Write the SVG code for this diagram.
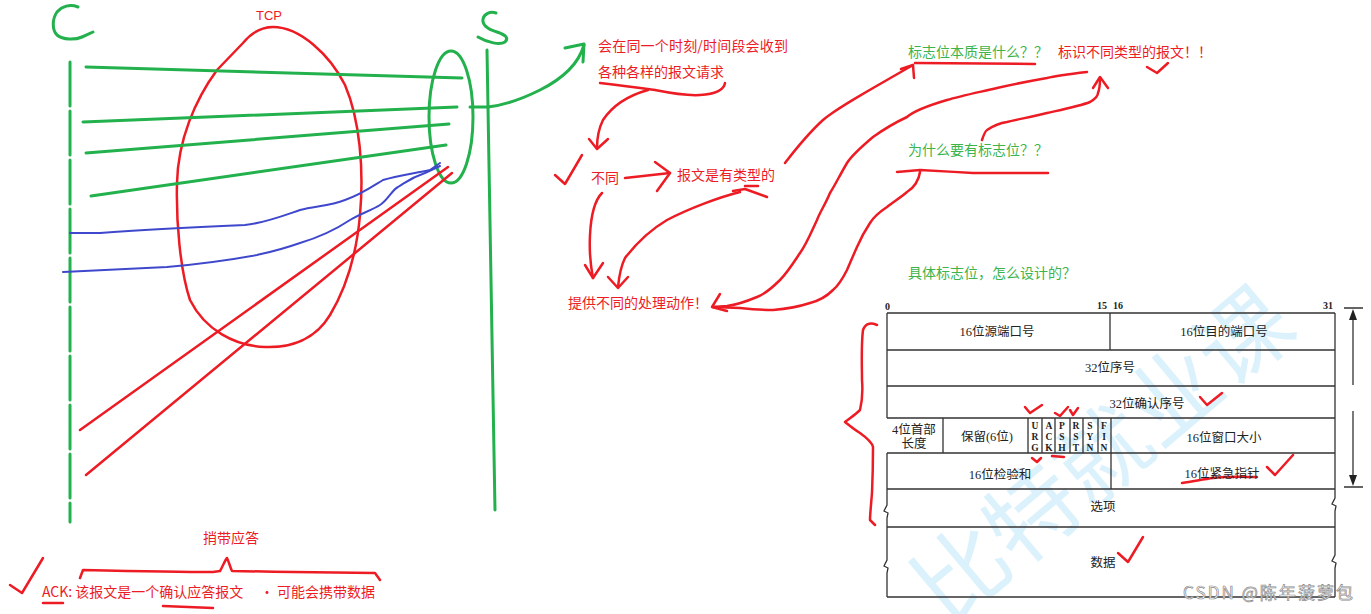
<svg xmlns="http://www.w3.org/2000/svg" width="1371" height="614" viewBox="0 0 1371 614">
<style>
.g{fill:none;stroke:#22b14c;stroke-width:3;stroke-linecap:round;stroke-linejoin:round}
.r{fill:none;stroke:#ed1c24;stroke-width:2.5;stroke-linecap:round;stroke-linejoin:round}
.b{fill:none;stroke:#3f48cc;stroke-width:2;stroke-linecap:round;stroke-linejoin:round}
.tr{fill:#ed1c24;font-family:"Noto Sans CJK SC","Liberation Sans",sans-serif;font-size:14px}
.tg{fill:#3cb44b;font-family:"Noto Sans CJK SC","Liberation Sans",sans-serif;font-size:14px}
.tl{fill:none;stroke:#333;stroke-width:1.3}
.tt{fill:#222;font-family:"Liberation Serif","Noto Sans CJK SC",serif;font-size:12.5px;text-anchor:middle}
.fl{fill:#222;font-family:"Liberation Serif",serif;font-size:9.5px;font-weight:bold;text-anchor:middle}
.bn{fill:#222;font-family:"Liberation Serif",serif;font-size:10px;font-weight:bold}
</style>
<rect width="1371" height="614" fill="#fff"/>

<!-- watermark -->
<text x="0" y="0" transform="translate(948,628) rotate(-40)" fill="#cfeefb" font-family="Noto Sans CJK SC,sans-serif" font-size="92" opacity="0.75">比特就业课</text>

<g id="client">
  <path class="g" d="M78,7 C70,4 62,6 57,12 C52,19 52,30 57,35 C63,40 75,40 82,37 L93,32"/>
  <path class="g" d="M70,62 L70,522" stroke-dasharray="44 5"/>
</g>
<g id="server">
  <path class="g" d="M496,13 C490,11 484,14 483,19 C482,25 487,29 497,32 C506,35 509,38 505,42 C500,45 488,43 478,37"/>
  <path class="g" d="M487,50 L495,510"/>
</g>
<g id="tcp">
  <text x="256" y="20" fill="#ed1c24" font-family="Liberation Sans,sans-serif" font-size="13">TCP</text>
  <path class="r" d="M243,43 C252,32 262,27 273,27 C300,27 330,55 345,85 C360,120 364,170 360,215 C356,260 345,290 330,315 C315,340 290,348 265,347 C235,346 205,330 190,300 C180,270 176,220 177,183 C178,140 195,100 217,70 Z"/>
</g>
<g id="socket">
  <ellipse class="g" cx="451" cy="117" rx="22" ry="66"/>
</g>

<g id="connectors">
  <!-- green requests -->
  <path class="g" d="M86,67 L462,78"/>
  <path class="g" d="M83,122 L457,107"/>
  <path class="g" d="M86,153 L449,124"/>
  <path class="g" d="M91,196 L446,145"/>
  <!-- blue -->
  <path class="b" d="M70,233 L100,233 C140,230 177,228 245,225 C265,223 285,215 300,210 C315,206 330,206 345,200 C360,195 370,188 383,180 C395,176 410,174 430,170 L440,163"/>
  <path class="b" d="M63,272 C100,270 140,268 167,267 C200,264 235,259 257,255 C270,252 280,250 300,243 C320,237 335,230 350,220 C360,214 372,210 380,205 C388,200 392,190 398,187 C405,183 410,178 425,173 L440,166"/>
  <!-- red -->
  <path class="r" d="M448,167 L80,430"/>
  <path class="r" d="M452,173 L86,475"/>
  <!-- green to notes -->
  <path class="g" d="M470,107 L488,107 C505,105 520,100 540,90 C560,80 578,66 584,45"/>
  <path class="g" d="M565,48 L584,44 L583,62"/>

  <!-- notes connectors -->
  <path class="r" d="M600,83 C625,86 640,88 655,90 C670,93 685,96 700,95 C715,94 724,90 725,83"/>
  <path class="r" d="M648,90 C630,95 613,105 603,120 C598,130 597,140 597,148"/>
  <path class="r" d="M589,139 L597,149 L608,139"/>
  <path class="r" d="M555,175 L565,184 L582,155"/>
  <path class="r" d="M625,178 L670,173"/>
  <path class="r" d="M655,162 L670,173 L657,191"/>
  <path class="r" d="M602,193 C595,200 591,215 590,235 C589,255 591,268 593,278"/>
  <path class="r" d="M585,265 L593,278 L603,263"/>
  <path class="r" d="M745,186 L758,186"/>
  <path class="r" d="M733,191 L745,189 L767,197"/>
  <path class="r" d="M740,192 C720,197 690,208 667,220 C650,230 635,245 625,258 C620,268 619,277 618,287"/>
  <path class="r" d="M608,277 L618,288 L628,277"/>
  <path class="r" d="M785,163 C795,150 812,130 823,120 C838,107 870,90 913,65"/>
  <path class="r" d="M901,69 L913,65 L914,78"/>
  <path class="r" d="M915,63 L1035,64"/>
  <path class="r" d="M1147,67 L1157,73 L1168,63"/>
  <path class="r" d="M1087,72 C1070,74 1055,76 1047,78 C1030,81 1010,85 997,88 C980,92 960,96 947,100 C930,105 915,110 907,117 C890,125 880,132 873,137 C860,148 852,155 847,163 C840,175 835,185 830,193 C825,205 820,212 817,220 C810,235 806,245 800,253 C792,265 787,273 780,280 C772,288 765,294 757,297 C745,302 735,305 727,306 L713,307"/>
  <path class="r" d="M720,294 L712,307 L727,311"/>
  <path class="r" d="M897,172 L920,170 C940,171 955,172 973,173 L1048,173"/>
  <path class="r" d="M920,172 C919,180 914,188 907,192 C900,198 893,202 887,207 C878,213 873,218 870,223 C864,232 860,240 857,247 C853,256 850,263 847,270 C843,278 839,285 833,290 C826,297 818,301 810,303 C798,307 785,309 773,310 C760,310 750,309 740,308 L713,307"/>
  <path class="r" d="M982,140 C984,134 985,131 987,130 C993,126 1000,123 1007,122 C1020,119 1035,116 1047,113 C1065,109 1080,106 1090,102 C1095,99 1098,96 1098,93 C1100,88 1100,83 1100,78"/>
  <path class="r" d="M1093,88 L1100,77 L1108,88"/>

  <!-- bottom brace -->
  <path class="r" d="M80,578 L83,570 C130,571 180,572 213,572 L220,571 C223,566 225,560 227,558 C229,562 230,567 232,571 C280,572 330,572 375,573 L380,580"/>
  <path class="r" d="M10,585 L22,593 L43,558"/>
  <path class="r" d="M43,603 L63,603"/>
  <path class="r" d="M163,606 L213,608"/>

  <!-- table annotations -->
  <path class="r" d="M877,325 C872,323 866,322 863,330 C861,345 862,367 862,380 C863,393 862,402 860,410 C855,415 850,418 845,422 C850,426 855,430 860,433 C867,438 872,442 873,447 C873,455 873,470 872,493 C871,505 870,515 870,520 L875,525"/>
  <path class="r" d="M1200,397 L1207,405 L1222,393"/>
  <path class="r" d="M1025,407 L1030,413 L1042,405" stroke-width="2"/>
  <path class="r" d="M1055,413 L1060,416 L1068,407" stroke-width="2"/>
  <path class="r" d="M1070,410 L1073,415 L1078,408" stroke-width="2"/>
  <path class="r" d="M1032,458 L1037,462 L1041,458" stroke-width="2"/>
  <path class="r" d="M1052,456 L1064,457" stroke-width="2"/>
  <path class="r" d="M1267,467 L1275,475 L1293,455"/>
  <path class="r" d="M1182,483 C1195,481 1205,479 1213,478 C1230,476 1245,477 1257,477" stroke-width="2"/>
  <path class="r" d="M1118,553 L1128,562 L1143,537"/>
</g>

<g id="notes">
  <text class="tr" x="598" y="51" textLength="190">会在同一个时刻/时间段会收到</text>
  <text class="tr" x="598" y="77">各种各样的报文请求</text>
  <text class="tr" x="591" y="183">不同</text>
  <text class="tr" x="677" y="180">报文是有类型的</text>
  <text class="tr" x="568" y="308">提供不同的处理动作！</text>
  <text class="tg" x="908" y="57">标志位本质是什么？？</text>
  <text class="tr" x="1058" y="57">标识不同类型的报文！！</text>
  <text class="tg" x="908" y="155">为什么要有标志位？？</text>
  <text class="tg" x="908" y="278">具体标志位，怎么设计的？</text>
  <text class="tr" x="203" y="543">捎带应答</text>
  <text class="tr" x="42" y="597">ACK: 该报文是一个确认应答报文</text>
  <text class="tr" x="260" y="597">·</text>
  <text class="tr" x="277" y="597">可能会携带数据</text>
</g>

<g id="tcp-header">
  <text class="bn" x="885" y="310">0</text>
  <text class="bn" x="1097" y="309">15</text>
  <text class="bn" x="1113" y="309">16</text>
  <text class="bn" x="1323" y="309">31</text>
  <path class="tl" d="M887,313 L1335,313 M887,350 L1335,350 M887,386 L1335,386 M887,418 L1335,418 M887,453 L1335,453 M887,489 L1335,489 M887,527 L1335,527 M887,597 L1335,597"/>
  <path class="tl" d="M887,313 L887,418 M887,453 L887,505 L884,511 L888,513 L887,518 L887,560 L884,566 L888,568 L887,573 L887,597"/>
  <path class="tl" d="M1335,313 L1335,498 L1332,504 L1336,506 L1335,511 L1335,555 L1332,561 L1336,563 L1335,568 L1335,597"/>
  <path class="tl" d="M1110,313 L1110,350 M943,418 L943,453 M1028,418 L1028,453 M1042,418 L1042,453 M1055,418 L1055,453 M1070,418 L1070,453 M1083,418 L1083,453 M1098,418 L1098,453 M1111,418 L1111,489"/>
  <text class="tt" x="997" y="336">16位源端口号</text>
  <text class="tt" x="1224" y="336">16位目的端口号</text>
  <text class="tt" x="1110" y="372">32位序号</text>
  <text class="tt" x="1147" y="408">32位确认序号</text>
  <text class="tt" x="914" y="434">4位首部</text>
  <text class="tt" x="914" y="448">长度</text>
  <text class="tt" x="987" y="441">保留(6位)</text>
  <text class="fl" x="1035" y="429">U</text><text class="fl" x="1035" y="440">R</text><text class="fl" x="1035" y="451">G</text>
  <text class="fl" x="1049" y="429">A</text><text class="fl" x="1049" y="440">C</text><text class="fl" x="1049" y="451">K</text>
  <text class="fl" x="1062" y="429">P</text><text class="fl" x="1062" y="440">S</text><text class="fl" x="1062" y="451">H</text>
  <text class="fl" x="1076" y="429">R</text><text class="fl" x="1076" y="440">S</text><text class="fl" x="1076" y="451">T</text>
  <text class="fl" x="1090" y="429">S</text><text class="fl" x="1090" y="440">Y</text><text class="fl" x="1090" y="451">N</text>
  <text class="fl" x="1104" y="429">F</text><text class="fl" x="1104" y="440">I</text><text class="fl" x="1104" y="451">N</text>
  <text class="tt" x="1224" y="442">16位窗口大小</text>
  <text class="tt" x="1000" y="479">16位检验和</text>
  <text class="tt" x="1222" y="478">16位紧急指针</text>
  <text class="tt" x="1103" y="511">选项</text>
  <text class="tt" x="1103" y="567">数据</text>
  <g id="height-arrow">
    <path class="tl" d="M1344,308 L1363,308 M1344,487 L1363,487 M1353,316 L1353,385 M1353,411 L1353,479"/>
    <path d="M1353,309 L1349,320 L1357,320 Z M1353,486 L1349,475 L1357,475 Z" fill="#222"/>
  </g>
</g>

<text x="1183" y="599" textLength="170" fill="#fff" stroke="#8a8a8a" stroke-width="0.7" font-family="Noto Sans CJK SC,Liberation Sans,sans-serif" font-size="17">CSDN @陈年菠萝包</text>
</svg>
